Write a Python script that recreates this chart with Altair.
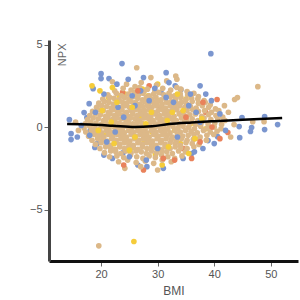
import altair as alt
import pandas as pd

tan_points = [
    (24.5,2.6),(27.1,2.7),(29.8,2.55),(31.6,2.8),(26.0,2.45),(33.4,2.4),
    (22.4,2.2),(23.9,2.35),(25.3,2.25),(26.8,2.4),(28.2,2.3),(29.5,2.2),(30.9,2.35),(32.3,2.25),(34.1,2.3),(35.2,2.15),(27.6,2.15),
    (21.2,1.95),(22.7,2.05),(23.6,1.9),(24.8,2.0),(25.9,2.1),(26.6,1.95),(27.4,2.05),(28.5,1.9),(29.3,2.0),(30.2,2.1),(31.1,1.95),(32.0,2.05),(33.0,1.9),(34.0,2.0),(35.3,1.95),(36.4,2.05),(37.2,1.85),
    (20.3,1.7),(21.5,1.8),(22.3,1.75),(23.2,1.65),(24.1,1.8),(24.9,1.7),(25.7,1.85),(26.5,1.75),(27.3,1.65),(28.0,1.8),(28.9,1.7),(29.7,1.8),(30.6,1.65),(31.4,1.75),(32.3,1.85),(33.2,1.7),(34.1,1.8),(35.0,1.65),(36.0,1.75),(37.1,1.7),(38.2,1.6),
    (19.6,1.45),(20.6,1.55),(21.4,1.5),(22.2,1.4),(23.0,1.55),(23.8,1.5),(24.5,1.45),(25.3,1.55),(26.1,1.5),(26.9,1.4),(27.7,1.55),(28.4,1.45),(29.2,1.5),(30.0,1.55),(30.8,1.4),(31.6,1.5),(32.4,1.55),(33.3,1.45),(34.2,1.5),(35.1,1.4),(36.1,1.55),(37.2,1.45),(38.4,1.5),(39.3,1.35),
    (19.2,1.2),(20.1,1.3),(21.0,1.25),(21.8,1.15),(22.6,1.3),(23.4,1.2),(24.2,1.3),(25.0,1.2),(25.8,1.3),(26.6,1.2),(27.4,1.25),(28.2,1.3),(29.0,1.2),(29.8,1.3),(30.6,1.25),(31.4,1.15),(32.2,1.3),(33.0,1.2),(33.9,1.3),(34.8,1.2),(35.8,1.25),(36.8,1.15),(37.9,1.3),(39.0,1.2),(40.2,1.1),
    (18.5,0.95),(19.5,1.05),(20.4,1.0),(21.3,0.9),(22.1,1.05),(22.9,0.95),(23.7,1.05),(24.5,0.9),(25.3,1.0),(26.1,1.05),(26.9,0.95),(27.7,1.0),(28.5,1.05),(29.3,0.9),(30.1,1.0),(30.9,1.05),(31.7,0.95),(32.5,1.0),(33.4,1.05),(34.3,0.9),(35.2,1.0),(36.2,1.05),(37.2,0.95),(38.3,1.0),(39.5,0.9),(40.8,1.0),
    (18.0,0.7),(19.0,0.8),(19.9,0.75),(20.8,0.65),(21.6,0.8),(22.4,0.7),(23.2,0.8),(24.0,0.75),(24.8,0.65),(25.6,0.8),(26.4,0.7),(27.2,0.8),(28.0,0.75),(28.8,0.65),(29.6,0.8),(30.4,0.7),(31.2,0.8),(32.0,0.75),(32.9,0.65),(33.8,0.8),(34.7,0.7),(35.7,0.75),(36.7,0.8),(37.8,0.65),(39.0,0.75),(40.3,0.7),(41.5,0.6),
    (17.6,0.45),(18.6,0.55),(19.5,0.5),(20.4,0.4),(21.2,0.55),(22.0,0.45),(22.8,0.55),(23.6,0.5),(24.4,0.4),(25.2,0.55),(26.0,0.5),(26.8,0.4),(27.6,0.55),(28.4,0.5),(29.2,0.4),(30.0,0.55),(30.8,0.45),(31.6,0.55),(32.4,0.5),(33.3,0.4),(34.2,0.55),(35.1,0.45),(36.1,0.5),(37.1,0.4),(38.2,0.55),(39.4,0.45),(40.6,0.5),(41.9,0.4),
    (17.2,0.2),(18.2,0.3),(19.1,0.25),(20.0,0.15),(20.8,0.3),(21.6,0.2),(22.4,0.3),(23.2,0.25),(24.0,0.15),(24.8,0.3),(25.6,0.2),(26.4,0.3),(27.2,0.25),(28.0,0.15),(28.8,0.3),(29.6,0.2),(30.4,0.3),(31.2,0.25),(32.0,0.15),(32.9,0.3),(33.8,0.2),(34.7,0.3),(35.7,0.25),(36.7,0.15),(37.8,0.3),(38.9,0.2),(40.1,0.25),(41.3,0.15),
    (17.0,-0.05),(18.0,0.05),(18.9,0.0),(19.8,-0.1),(20.6,0.05),(21.4,-0.05),(22.2,0.05),(23.0,0.0),(23.8,-0.1),(24.6,0.05),(25.4,-0.05),(26.2,0.05),(27.0,0.0),(27.8,-0.1),(28.6,0.05),(29.4,-0.05),(30.2,0.05),(31.0,0.0),(31.8,-0.1),(32.7,0.05),(33.6,-0.05),(34.5,0.05),(35.5,0.0),(36.5,-0.1),(37.6,0.05),(38.8,-0.05),(40.0,0.0),(41.2,-0.1),
    (17.3,-0.3),(18.3,-0.2),(19.2,-0.25),(20.1,-0.35),(20.9,-0.2),(21.7,-0.3),(22.5,-0.2),(23.3,-0.25),(24.1,-0.35),(24.9,-0.2),(25.7,-0.3),(26.5,-0.2),(27.3,-0.25),(28.1,-0.35),(28.9,-0.2),(29.7,-0.3),(30.5,-0.2),(31.3,-0.25),(32.2,-0.35),(33.1,-0.2),(34.0,-0.3),(34.9,-0.2),(35.9,-0.25),(37.0,-0.35),(38.1,-0.2),(39.3,-0.3),(40.5,-0.25),
    (17.8,-0.55),(18.8,-0.45),(19.7,-0.5),(20.5,-0.6),(21.3,-0.45),(22.1,-0.55),(22.9,-0.45),(23.7,-0.5),(24.5,-0.6),(25.3,-0.45),(26.1,-0.55),(26.9,-0.45),(27.7,-0.5),(28.5,-0.6),(29.3,-0.45),(30.1,-0.55),(30.9,-0.45),(31.7,-0.5),(32.6,-0.6),(33.5,-0.45),(34.4,-0.55),(35.4,-0.5),(36.4,-0.45),(37.5,-0.6),(38.7,-0.5),(39.9,-0.45),
    (18.4,-0.8),(19.4,-0.7),(20.3,-0.75),(21.1,-0.85),(21.9,-0.7),(22.7,-0.8),(23.5,-0.7),(24.3,-0.75),(25.1,-0.85),(25.9,-0.7),(26.7,-0.8),(27.5,-0.7),(28.3,-0.75),(29.1,-0.85),(29.9,-0.7),(30.7,-0.8),(31.5,-0.7),(32.4,-0.75),(33.3,-0.85),(34.2,-0.7),(35.2,-0.8),(36.3,-0.75),(37.4,-0.7),(38.6,-0.8),
    (19.0,-1.05),(20.0,-0.95),(20.9,-1.0),(21.7,-1.1),(22.5,-0.95),(23.3,-1.05),(24.1,-0.95),(24.9,-1.0),(25.7,-1.1),(26.5,-0.95),(27.3,-1.05),(28.1,-0.95),(28.9,-1.0),(29.7,-1.1),(30.5,-0.95),(31.3,-1.05),(32.2,-0.95),(33.1,-1.0),(34.0,-1.1),(35.0,-0.95),(36.1,-1.0),(37.3,-1.05),
    (19.8,-1.3),(20.8,-1.2),(21.7,-1.25),(22.5,-1.35),(23.3,-1.2),(24.1,-1.3),(24.9,-1.2),(25.7,-1.25),(26.5,-1.35),(27.3,-1.2),(28.1,-1.3),(28.9,-1.2),(29.7,-1.25),(30.5,-1.35),(31.3,-1.2),(32.2,-1.3),(33.1,-1.2),(34.1,-1.25),(35.2,-1.3),(36.4,-1.2),
    (20.6,-1.55),(21.7,-1.45),(22.6,-1.5),(23.5,-1.6),(24.4,-1.45),(25.3,-1.55),(26.2,-1.45),(27.1,-1.5),(28.0,-1.6),(28.9,-1.45),(29.8,-1.55),(30.7,-1.45),(31.6,-1.5),(32.6,-1.6),(33.7,-1.45),(34.9,-1.5),
    (21.5,-1.8),(22.8,-1.75),(24.0,-1.85),(25.2,-1.7),(26.3,-1.8),(27.4,-1.9),(28.5,-1.75),(29.6,-1.85),(30.7,-1.7),(31.8,-1.8),(33.0,-1.9),(34.3,-1.75),
    (23.1,-2.1),(24.7,-2.0),(26.2,-2.15),(27.8,-2.05),(29.3,-2.2),(30.8,-2.0),(32.4,-2.1),
    (19.6,-7.2),(47.7,2.45),(43.6,1.67),(44.1,1.79),(43.5,0.15),(46.8,0.33),(48.8,0.33),(26.3,3.6),(22.0,2.75),(28.8,3.0),
    (33.2,3.1),(33.4,2.9),(16.0,-0.2),(15.5,0.3),(42.5,0.9),(42.9,-0.6),(41.8,1.3),(24.2,-2.5),(30.0,-2.6),(27.0,-2.4),
]

blue_points = [
    (14.4,0.45),(14.7,-0.4),(14.7,-0.76),(23.7,3.85),(20.0,3.24),(20.0,2.94),(21.4,2.94),(18.6,2.33),(17.9,1.42),(17.0,0.88),
    (17.5,0.58),(18.1,-0.2),(19.3,-1.0),(18.9,-1.24),(31.5,3.3),(37.5,2.5),(33.1,2.5),(34.1,2.27),(30.6,2.09),(39.4,4.45),
    (44.9,0.58),(48.9,0.64),(51.2,0.15),(48.9,-0.15),(46.6,-0.03),(46.4,-0.27),(44.4,0.03),(44.5,-0.64),(38.9,-0.82),(40.6,-0.58),
    (23.9,-1.55),(28.1,-2.4),(26.5,-2.3),(31.0,-2.5),(34.5,-1.9),(36.0,-1.6),(38.0,-1.3),(22.0,-1.9),(20.5,-1.7),
    (25.5,1.9),(27.0,2.2),(28.5,1.6),(26.0,1.3),(29.5,2.35),(31.5,1.8),(32.8,1.5),(35.5,1.3),(36.8,0.9),(24.0,0.6),
    (22.5,-0.3),(21.0,-0.9),(23.0,1.2),(30.0,-1.3),(33.5,-0.6),(37.5,0.3),(39.5,1.6),(41.0,0.8),(42.0,-0.2),(19.0,0.9),
    (18.0,-0.5),(16.5,0.1),(20.5,2.0),(22.8,2.6),(24.8,2.9),(35.8,2.0),(38.5,2.0),(40.0,-1.0),(36.5,-1.5),(28.0,-2.0),
    (25.0,-1.8),(32.0,2.7),(27.5,3.0),(15.8,-0.6),
]

yellow_points = [
    (18.4,2.5),(19.8,2.2),(21.3,1.8),(22.8,1.5),(24.2,2.0),(25.5,1.2),(26.8,0.6),(21.8,0.3),(20.5,-0.5),(22.3,-1.0),
    (23.9,-0.3),(25.0,-1.4),(27.6,-0.9),(28.9,0.9),(30.3,1.6),(31.7,0.4),(33.0,-0.2),(34.5,1.0),(35.8,0.2),(36.6,-0.7),
    (29.6,-1.7),(31.9,-1.2),(27.3,2.3),(33.5,2.0),(24.6,0.1),(19.5,-0.2),(23.2,1.9),(26.0,-0.6),(29.0,-0.3),(32.6,0.9),
    (34.0,-1.0),(37.8,0.5),(30.8,-2.3),(25.8,-6.94),(28.3,1.9),(20.2,1.0),(35.0,1.7),(22.0,2.4),(30.0,2.6),(27.9,0.2),
    (38.5,-0.1),(35.5,-1.6),
]

orange_points = [
    (28.5,2.5),(26.5,2.2),(23.8,2.1),(40.5,1.67),(42.4,-0.33),(37.5,-0.9),(36.0,-1.9),(33.0,-2.0),(38.5,0.9),(39.6,0.0),
    (41.0,-0.7),(31.0,-1.9),(30.5,1.2),(24.0,-2.3),(27.5,-2.6),(35.0,0.6),(34.5,-1.3),(38.0,1.5),
]

trend_bmi = [14.0, 18.0, 22.0, 26.0, 29.0, 32.0, 36.0, 40.0, 45.0, 52.0]
trend_npx = [0.18, 0.15, 0.08, 0.0, 0.05, 0.18, 0.28, 0.36, 0.45, 0.55]

# draw order: some blue/yellow/orange underneath the tan core, the rest on top
groups = [("blue", blue_points[:39]), ("yellow", yellow_points[::2]), ("orange", orange_points[::2]),
          ("tan", tan_points), ("blue", blue_points[39:]),
          ("yellow", yellow_points[1::2]), ("orange", orange_points[1::2])]
rows = []
for name, pts in groups:
    for bx, ny in pts:
        rows.append({"BMI": bx, "NPX": ny, "grp": name})
df = pd.DataFrame(rows)
df["order"] = range(len(df))

trend = pd.DataFrame({"BMI": trend_bmi, "NPX": trend_npx})

xscale = alt.Scale(domain=[10.8, 54.8], nice=False, zero=False)
yscale = alt.Scale(domain=[-8.12, 5.28], nice=False, zero=False)

points = alt.Chart(df).mark_circle(size=32, opacity=1).encode(
    x=alt.X("BMI:Q", scale=xscale, axis=alt.Axis(
        values=[20, 30, 40, 50], title="BMI", grid=False,
        domainColor="#111", domainWidth=3, tickColor="#666", tickSize=5,
        labelColor="#555", labelFontSize=11, labelPadding=2,
        titleColor="#555", titleFontSize=12, titleFontWeight="normal", titlePadding=6)),
    y=alt.Y("NPX:Q", scale=yscale, axis=alt.Axis(
        values=[-5, 0, 5], title="NPX", grid=False,
        domainColor="#444", domainWidth=3, tickColor="#666", tickSize=5,
        labelColor="#555", labelFontSize=11, labelPadding=2,
        titleColor="#666", titleFontSize=11, titleFontWeight="normal",
        titleAngle=-90, titleX=13, titleY=3, titleAlign="right", titleBaseline="middle")),
    color=alt.Color("grp:N", scale=alt.Scale(
        domain=["tan", "blue", "yellow", "orange"],
        range=["#dcb888", "#7b96cf", "#f5cc3a", "#e9825b"]), legend=None),
    order=alt.Order("order:Q"),
)

line = alt.Chart(trend).mark_line(color="black", strokeWidth=2.5, interpolate="monotone").encode(
    x=alt.X("BMI:Q", scale=xscale),
    y=alt.Y("NPX:Q", scale=yscale),
)

chart = (points + line).properties(
    width=249, height=221,
    autosize=alt.AutoSizeParams(type="none"),
    padding={"left": 49, "top": 40, "right": 2, "bottom": 39},
).configure(font="Arial", view=alt.ViewConfig(stroke=None))

chart.save("out.html", embed_options={"renderer": "svg", "actions": False})
